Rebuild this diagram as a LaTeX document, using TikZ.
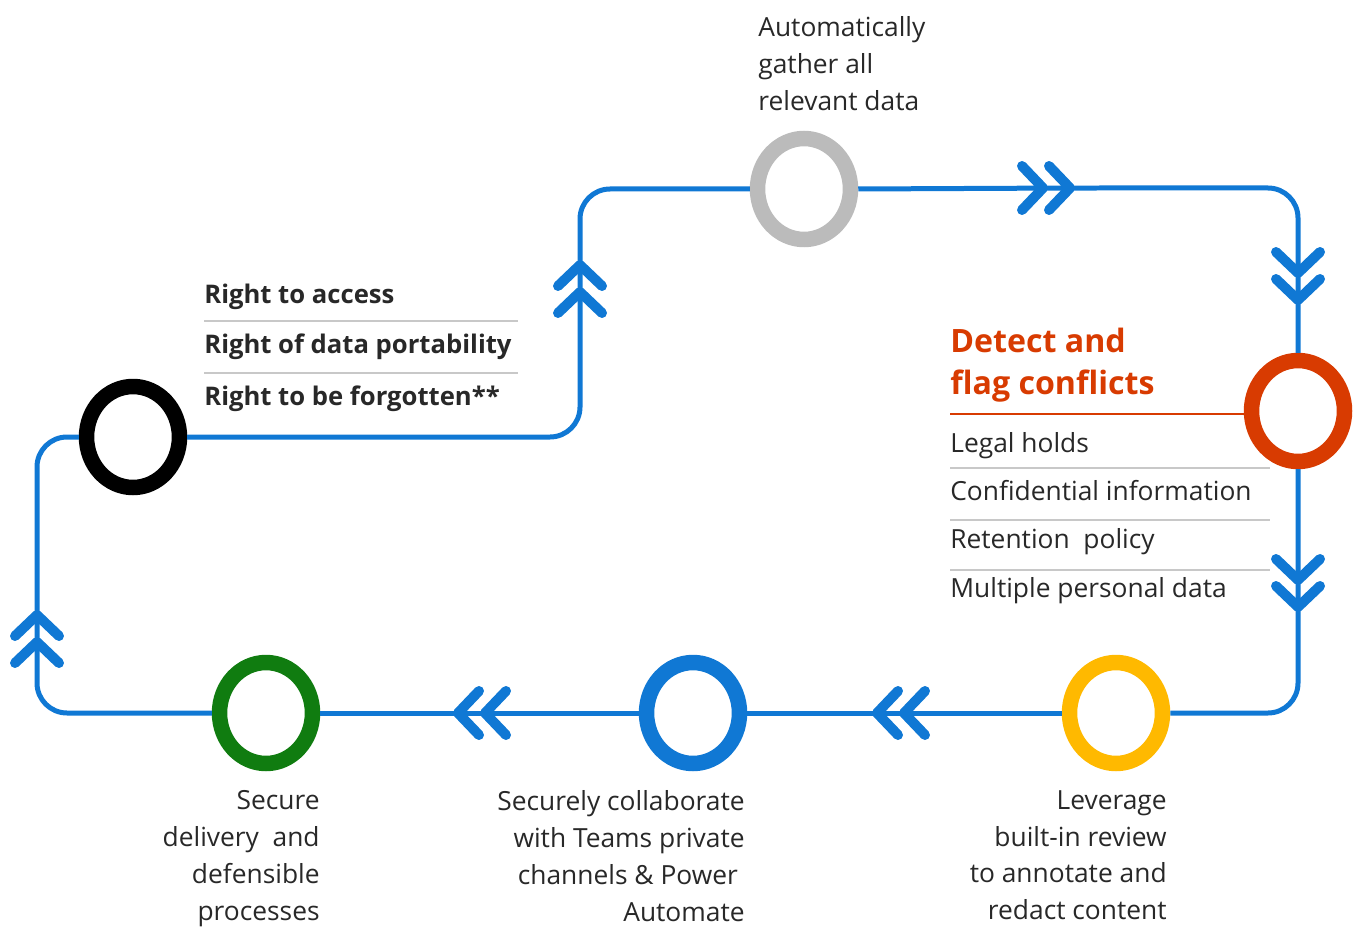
\documentclass[tikz,border=0pt]{standalone}
\usepackage{fontspec}
\setmainfont{Open Sans}
\usetikzlibrary{shapes.geometric}
\definecolor{flowblue}{RGB}{16,120,212}
\definecolor{ringgray}{RGB}{187,187,187}
\definecolor{ringred}{RGB}{216,59,1}
\definecolor{ringyellow}{RGB}{255,185,0}
\definecolor{ringgreen}{RGB}{16,124,16}
\definecolor{txt}{RGB}{40,40,40}
\definecolor{sepgray}{RGB}{200,200,200}
\begin{document}
\begin{tikzpicture}[x=0.02cm,y=-0.02cm,
  ring/.style={ellipse,draw=#1,fill=white,line width=0.31cm,minimum width=1.86cm,minimum height=2.02cm,inner sep=0pt},
  flow/.style={draw=flowblue,line width=0.1cm,rounded corners=0.6cm},
  chev/.pic={\draw[flowblue,line width=0.2cm,line cap=round,line join=round]
    (-21,-22) -- (0,0) -- (-21,22) (-48,-22) -- (-27,0) -- (-48,22);},
  lbl/.style={font=\fontsize{15}{21}\selectfont,text=txt,inner sep=0pt},
  item/.style={lbl,anchor=base west},
  right/.style={font=\fontsize{14.6}{21}\selectfont\bfseries,text=txt,inner sep=0pt,anchor=base west},
  ttl/.style={font=\fontsize{18.3}{24}\selectfont\bfseries,text=ringred,inner sep=0pt,align=left},
  sep/.style={draw=sepgray,line width=0.03cm}]
\useasboundingbox (0,0) rectangle (1358,929);

\node[lbl,anchor=north west,align=left] (gathertxt) at (758,16) {Automatically\\gather all\\relevant data};

\node[right] (access) at (204,303) {Right to access};
\node[right] (portab) at (204,353) {Right of data portability};
\node[right] (forgot) at (204,405) {Right to be forgotten**};
\draw[sep] (204,321) -- (518,321);
\draw[sep] (204,373) -- (518,373);

\node[ttl,anchor=north west] (detecttxt) at (950,328) {Detect and\\flag conflicts};
\draw[draw=ringred,line width=0.03cm] (950,414) -- (1250,414);
\node[item] (holds) at (950,452) {Legal holds};
\node[item] (confid) at (950,500) {Confidential information};
\node[item] (retain) at (950,548) {Retention~ policy};
\node[item] (multi) at (950,597) {Multiple personal data};
\draw[sep] (950,468) -- (1270,468);
\draw[sep] (950,520) -- (1270,520);
\draw[sep] (950,570) -- (1270,570);

\node[lbl,anchor=north east,align=right] (reviewtxt) at (1167,790) {Leverage\\built-in review\\to annotate and\\redact content};
\node[lbl,anchor=north east,align=right] (collabtxt) at (745,790) {Securely collaborate\\with Teams private\\channels \& Power\kern0.26em\\Automate};
\node[lbl,anchor=north east,align=right] (delivertxt) at (320,790) {Secure\\delivery~ and\\defensible\\processes};

\coordinate (c1) at (1070,188);
\coordinate (c2) at (1298,300);
\coordinate (c3) at (1298,607);
\coordinate (c4) at (877,713);
\coordinate (c5) at (458,713);
\coordinate (c6) at (37,615);
\coordinate (c7) at (580,265);

\node[ring=ringgray] (gather) at (804,189) {};
\node[ring=ringred] (detect) at (1298,411) {};
\node[ring=ringyellow] (review) at (1116,713) {};
\node[ring=flowblue] (collab) at (693,713) {};
\node[ring=ringgreen] (deliver) at (266,713) {};
\node[ring=black] (rights) at (133,437) {};

\draw[flow] (gather.east) -- (c1) -| (c2) -- (detect.north);
\draw[flow] (detect.south) -- (c3) |- (review.east);
\draw[flow] (review.west) -- (c4) -- (collab.east);
\draw[flow] (collab.west) -- (c5) -- (deliver.east);
\draw[flow] (deliver.west) -| (c6) |- (rights.west);
\draw[flow] (rights.east) -| (c7) |- (gather.west);

\pic at (c1) {chev};
\pic[rotate=-90] at (c2) {chev};
\pic[rotate=-90] at (c3) {chev};
\pic[rotate=180] at (c4) {chev};
\pic[rotate=180] at (c5) {chev};
\pic[rotate=90] at (c6) {chev};
\pic[rotate=90] at (c7) {chev};
\end{tikzpicture}
\end{document}
